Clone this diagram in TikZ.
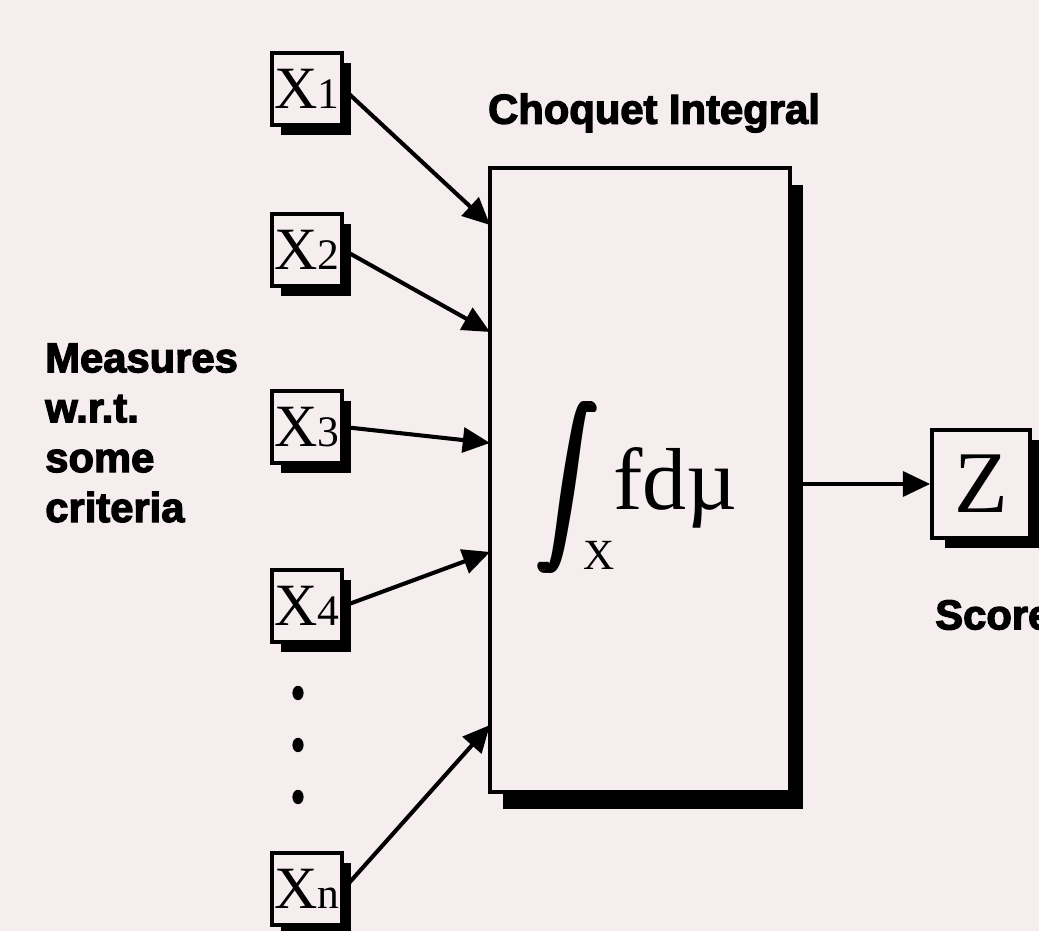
\documentclass[tikz,border=0pt]{standalone}
\usepackage{fontspec}
\setmainfont{Liberation Serif}
\newfontfamily\labelfont[FakeBold=3]{Liberation Sans Bold}
\usetikzlibrary{arrows.meta,shadows}

\definecolor{bgpink}{HTML}{F6EEEE}

\newcommand{\xlab}[1]{{\fontsize{42.7}{44}\selectfont X}{\fontsize{31}{33}\selectfont #1}}
\newcommand{\intcopy}{\rlap{$\displaystyle\int$}\kern0.3pt}
\newcommand{\boldint}{\intcopy\intcopy\intcopy\intcopy$\displaystyle\int$}

\tikzset{
  inbox/.style={draw=black, line width=2.4pt, fill=bgpink, inner sep=0pt,
    minimum width=1.75cm, minimum height=1.8cm,
    drop shadow={shadow xshift=0.22cm, shadow yshift=-0.25cm, fill=black, opacity=1}},
  chbox/.style={draw=black, line width=2.8pt, fill=bgpink, inner sep=0pt,
    minimum width=7.5cm, minimum height=15.6cm,
    drop shadow={shadow xshift=0.33cm, shadow yshift=-0.42cm, fill=black, opacity=1}},
  outbox/.style={draw=black, line width=2.6pt, fill=bgpink, inner sep=0pt,
    minimum width=2.45cm, minimum height=2.7cm,
    drop shadow={shadow xshift=0.32cm, shadow yshift=-0.25cm, fill=black, opacity=1}},
  lbl/.style={font=\labelfont\fontsize{29.7}{35.5}\selectfont, inner sep=0pt},
  feed/.style={-{Triangle[length=0.68cm,width=0.62cm]}, line width=2.9pt}
}

\begin{document}
\begin{tikzpicture}

%BACKGROUND
\useasboundingbox[fill=bgpink] (0,0) rectangle (25.975,23.275);
%BACKGROUND

\node[chbox](core) at (16.0,11.275) {};

\node[inbox](x1) at (7.675,21.05) {\xlab{1}};
\node[inbox](x2) at (7.675,17.025) {\xlab{2}};
\node[inbox](x3) at (7.675,12.6) {\xlab{3}};
\node[inbox](x4) at (7.675,8.125) {\xlab{4}};
\node[inbox](xn) at (7.675,1.05) {\xlab{n}};

\node[outbox](z) at (24.525,11.175) {\fontsize{62.6}{64}\selectfont Z};

\node[lbl](title) at (16.35,20.45) {Choquet Integral};
\node[lbl,anchor=west,align=left](measures) at (1.125,12.45) {Measures\\w.r.t.\\some\\criteria};
\node[lbl,anchor=west](score) at (23.375,7.9) {Score};

%INTEGRAL
\node[inner sep=0pt](intsign) at (14.2,11.1) {\scalebox{4.2}[5.5]{\boldint}};
\node[inner sep=0pt,anchor=base west](intarg) at (15.325,10.525) {\fontsize{62.6}{64}\selectfont fdµ};
\node[inner sep=0pt,anchor=base west](intdom) at (14.575,9.025) {\fontsize{30.6}{32}\selectfont X};

%DOTS
\foreach \y in {5.95,4.65,3.35}
  \fill (7.45,\y) ellipse (0.14cm and 0.18cm);

\coordinate (in1) at (12.25,17.65);
\coordinate (in2) at (12.25,14.975);
\coordinate (in3) at (12.25,12.2);
\coordinate (in4) at (12.25,9.475);
\coordinate (inn) at (12.25,5.15);

\draw[feed] (x1.east) -- (in1);
\draw[feed] (x2.east) -- (in2);
\draw[feed] (x3.east) -- (in3);
\draw[feed] (x4.east) -- (in4);
\draw[feed] (xn.east) -- (inn);

\draw[feed] (core.east |- z.west) -- (z.west);

\end{tikzpicture}
\end{document}
